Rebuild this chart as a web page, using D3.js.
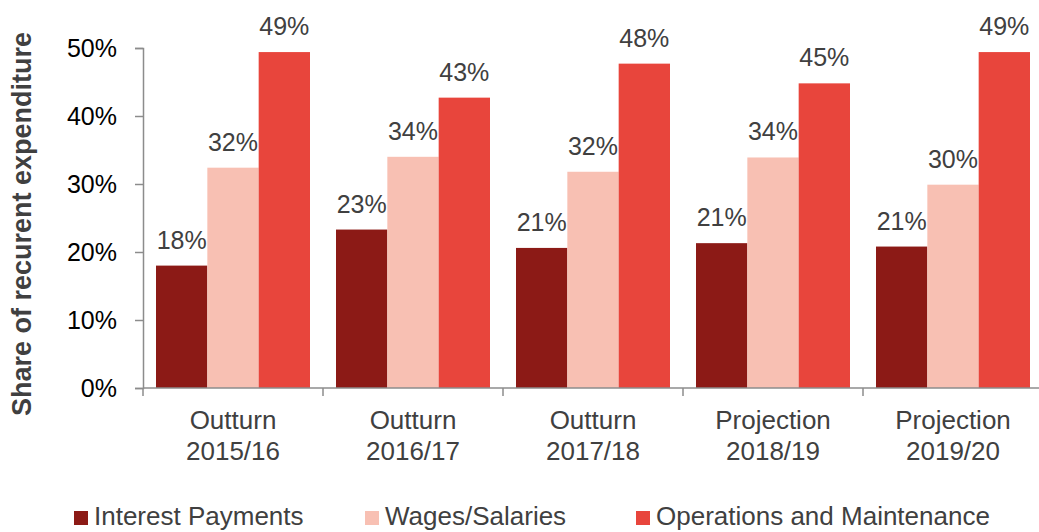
<!DOCTYPE html>
<html>
<head>
<meta charset="utf-8">
<script src="https://cdn.jsdelivr.net/npm/d3@7"></script>
<style>
  body { margin: 0; background: #fff; }
  text { font-family: "Liberation Sans", Arial, sans-serif; }
</style>
</head>
<body>
<script>
var categories = [
    ["Outturn", "2015/16"],
    ["Outturn", "2016/17"],
    ["Outturn", "2017/18"],
    ["Projection", "2018/19"],
    ["Projection", "2019/20"]
];
var series = ["Interest Payments", "Wages/Salaries", "Operations and Maintenance"];
var colors = ["#8c1a16", "#f8c0b3", "#e8453c"];

// shares in %
var interest = [18.0, 23.3, 20.6, 21.3, 20.8];
var wages    = [32.4, 34.0, 31.8, 33.9, 29.9];
var opsMaint = [49.4, 42.7, 47.7, 44.8, 49.4];
var yTicks = [0, 10, 20, 30, 40, 50];

var values = [interest, wages, opsMaint];

var W = 1039, H = 532;
var svg = d3.select("body").append("svg")
    .attr("width", W)
    .attr("height", H);

var keys = categories.map(function(c) { return c.join(" "); });

var x0 = d3.scaleBand()
    .domain(keys)
    .range([143, 1043])
    .padding(0);

var x1 = d3.scaleBand()
    .domain(series)
    .range([13, x0.bandwidth() - 13])
    .padding(0);

var y = d3.scaleLinear()
    .domain([0, 50])
    .range([388, 48]);

// bars
var groups = svg.selectAll("g.grp")
    .data(keys)
    .enter().append("g")
    .attr("class", "grp")
    .attr("transform", function(d) { return "translate(" + x0(d) + ",0)"; });

series.forEach(function(s, si) {
    groups.append("rect")
        .attr("x", x1(s))
        .attr("width", x1.bandwidth())
        .attr("y", function(d, i) { return y(values[si][i]); })
        .attr("height", function(d, i) { return y(0) - y(values[si][i]); })
        .attr("fill", colors[si]);

    groups.append("text")
        .attr("x", x1(s) + x1.bandwidth() / 2)
        .attr("y", function(d, i) { return y(values[si][i]) - 17; })
        .attr("text-anchor", "middle")
        .attr("font-size", "25px")
        .attr("fill", "#404040")
        .text(function(d, i) { return Math.round(values[si][i]) + "%"; });
});

// y axis
var yAxis = svg.append("g")
    .attr("transform", "translate(143,0)")
    .call(d3.axisLeft(y).tickValues(yTicks).tickSize(8).tickPadding(18)
        .tickFormat(function(d) { return d + "%"; }));
yAxis.select(".domain").attr("stroke", "#8c8c8c").attr("stroke-width", 1.5);
yAxis.selectAll(".tick line").attr("stroke", "#8c8c8c").attr("stroke-width", 1.5);
yAxis.selectAll(".tick text")
    .attr("font-size", "25px")
    .attr("fill", "#000")
    .style("font-family", "'Liberation Sans', Arial, sans-serif");

// x axis line with ticks at group boundaries
var xAxisG = svg.append("g");
xAxisG.append("line")
    .attr("x1", 143).attr("x2", 1043)
    .attr("y1", y(0)).attr("y2", y(0))
    .attr("stroke", "#8c8c8c").attr("stroke-width", 1.5);
var bounds = keys.map(function(k) { return x0(k); }).concat([x0.range()[1]]);
xAxisG.selectAll("line.tk")
    .data(bounds)
    .enter().append("line")
    .attr("class", "tk")
    .attr("x1", function(d) { return d; }).attr("x2", function(d) { return d; })
    .attr("y1", y(0)).attr("y2", y(0) + 8)
    .attr("stroke", "#8c8c8c").attr("stroke-width", 1.5);

var xl = xAxisG.selectAll("text.xl")
    .data(categories)
    .enter().append("text")
    .attr("class", "xl")
    .attr("text-anchor", "middle")
    .attr("font-size", "26px")
    .attr("fill", "#404040")
    .attr("transform", function(d, i) { return "translate(" + (x0(keys[i]) + x0.bandwidth() / 2) + ",429)"; });
xl.append("tspan").attr("x", 0).attr("y", 0).text(function(d) { return d[0]; });
xl.append("tspan").attr("x", 0).attr("y", 31).text(function(d) { return d[1]; });

// y title
svg.append("text")
    .attr("transform", "translate(31,224) rotate(-90)")
    .attr("text-anchor", "middle")
    .attr("font-size", "27px")
    .attr("font-weight", "bold")
    .attr("fill", "#404040")
    .text("Share of recurent expenditure");

// legend
var legendX = [74, 365, 636];
var leg = svg.selectAll("g.leg")
    .data(series)
    .enter().append("g")
    .attr("class", "leg")
    .attr("transform", function(d, i) { return "translate(" + legendX[i] + ",511)"; });
leg.append("rect")
    .attr("width", 14).attr("height", 14)
    .attr("fill", function(d, i) { return colors[i]; });
leg.append("text")
    .attr("x", 20).attr("y", 14)
    .attr("font-size", "26px")
    .attr("fill", "#404040")
    .text(function(d) { return d; });
</script>
</body>
</html>
